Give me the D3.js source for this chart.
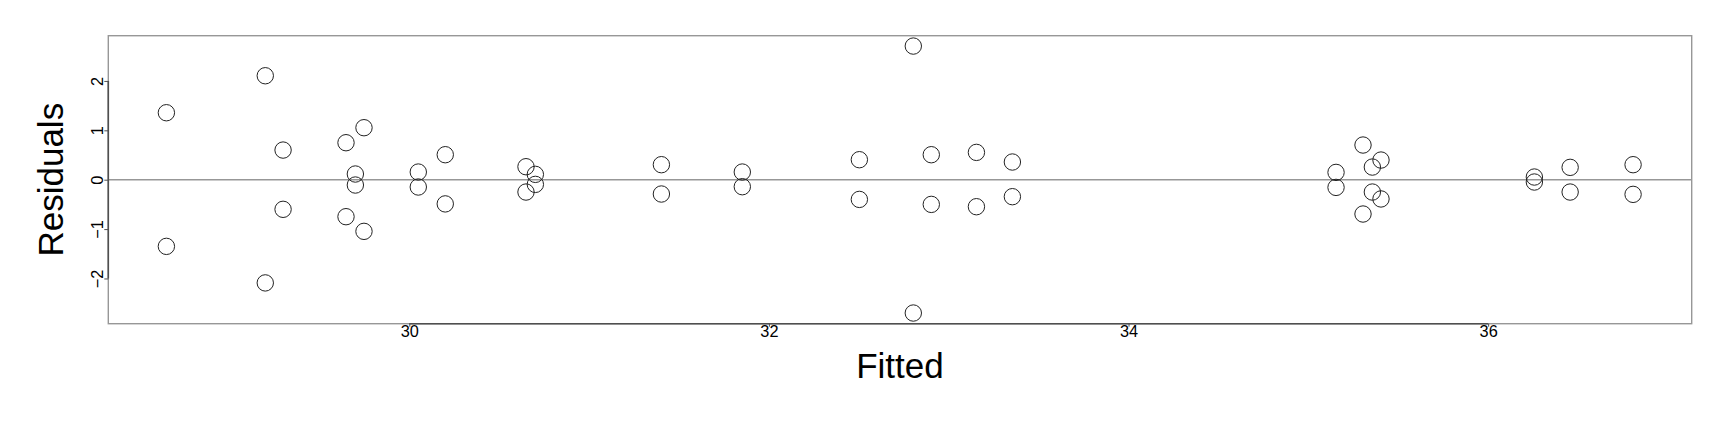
<!DOCTYPE html>
<html>
<head>
<meta charset="utf-8">
<script src="https://cdn.jsdelivr.net/npm/d3@7"></script>
<style>
  html, body { margin: 0; padding: 0; background: #fff; }
  svg { display: block; font-family: "Liberation Sans", Arial, Helvetica, sans-serif; }
</style>
</head>
<body>
<svg id="chart" width="1728" height="432"></svg>
<script>
// Data (Fitted vs Residuals)
const fitted = [
  28.649, 28.649, 29.199, 29.199, 29.298, 29.298, 29.648, 29.648,
  29.748, 29.748, 29.700, 29.700, 30.050, 30.050, 30.200, 30.200,
  30.649, 30.649, 30.701, 30.701, 31.402, 31.402, 31.852, 31.852,
  32.503, 32.503, 32.803, 32.803, 32.903, 32.903, 33.154, 33.154,
  33.354, 33.354, 35.154, 35.154, 35.304, 35.304, 35.356, 35.356,
  35.404, 35.404, 36.257, 36.257, 36.456, 36.456, 36.806, 36.806
];
const residuals = [
  1.356, -1.350, 2.105, -2.090, 0.600, -0.600, 0.749, -0.749,
  1.053, -1.046, 0.115, -0.108, 0.155, -0.148, 0.506, -0.490,
  0.263, -0.250, 0.108, -0.095, 0.304, -0.290, 0.155, -0.142,
  0.405, -0.399, 2.706, -2.700, 0.506, -0.500, 0.553, -0.547,
  0.358, -0.344, 0.148, -0.156, 0.702, -0.695, 0.256, -0.250,
  0.398, -0.390, 0.054, -0.047, 0.250, -0.250, 0.304, -0.297
];
const xTicks = [30, 32, 34, 36];
const yTicks = [-2, -1, 0, 1, 2];
const xLabel = "Fitted";
const yLabel = "Residuals";

const W = 1728, H = 432;
const margin = { left: 108.3, right: 36.3, top: 35.7, bottom: 108.3 };
const svg = d3.select("#chart");

const x = d3.scaleLinear().domain([28.326, 37.132]).range([margin.left, W - margin.right]);
const y = d3.scaleLinear().domain([-2.916, 2.916]).range([H - margin.bottom, margin.top]);

const boxColor = "#979797";
const axisColor = "#4f4f4f";

// zero reference line
svg.append("line")
  .attr("x1", x.range()[0]).attr("x2", x.range()[1])
  .attr("y1", y(0)).attr("y2", y(0))
  .attr("stroke", boxColor).attr("stroke-width", 1.4);

// plot box
svg.append("rect")
  .attr("x", x.range()[0]).attr("y", y.range()[1])
  .attr("width", x.range()[1] - x.range()[0])
  .attr("height", y.range()[0] - y.range()[1])
  .attr("fill", "none").attr("stroke", boxColor).attr("stroke-width", 1.4);

// bottom axis
const gx = svg.append("g")
  .attr("transform", `translate(0,${y.range()[0]})`)
  .call(d3.axisBottom(x).tickValues(xTicks).tickFormat(d3.format("d")).tickSize(3).tickPadding(-1));
gx.select(".domain").remove();
gx.selectAll(".tick line").attr("stroke", axisColor).attr("stroke-width", 1);
gx.selectAll(".tick text").attr("font-size", 16.3).attr("fill", "#000")
  .attr("font-family", "Liberation Sans, Arial, sans-serif");
gx.append("line")
  .attr("x1", x(xTicks[0])).attr("x2", x(xTicks[xTicks.length - 1]))
  .attr("y1", 0).attr("y2", 0)
  .attr("stroke", axisColor).attr("stroke-width", 1.6);

// left axis
const gy = svg.append("g")
  .attr("transform", `translate(${x.range()[0]},0)`)
  .call(d3.axisLeft(y).tickValues(yTicks).tickFormat(d3.format("d")).tickSize(4));
gy.select(".domain").remove();
gy.selectAll(".tick line").attr("stroke", axisColor).attr("stroke-width", 1);
gy.selectAll(".tick text")
  .attr("font-size", 16.3).attr("fill", "#000")
  .attr("font-family", "Liberation Sans, Arial, sans-serif")
  .attr("x", null).attr("dy", null)
  .attr("text-anchor", "middle")
  .attr("transform", "translate(-5,0) rotate(-90)");
gy.append("line")
  .attr("x1", 0).attr("x2", 0)
  .attr("y1", y(yTicks[0])).attr("y2", y(yTicks[yTicks.length - 1]))
  .attr("stroke", axisColor).attr("stroke-width", 1.6);

// points
const pts = fitted.map((f, i) => ({ f, r: residuals[i] }));
svg.append("g").selectAll("circle").data(pts).join("circle")
  .attr("cx", d => x(d.f)).attr("cy", d => y(d.r))
  .attr("r", 8.2)
  .attr("fill", "none").attr("stroke", "#222").attr("stroke-width", 1);

// axis titles
svg.append("text")
  .attr("x", (x.range()[0] + x.range()[1]) / 2).attr("y", 378)
  .attr("text-anchor", "middle").attr("font-size", 35).attr("fill", "#000")
  .text(xLabel);
svg.append("text")
  .attr("transform", `translate(63,${(y.range()[0] + y.range()[1]) / 2}) rotate(-90)`)
  .attr("text-anchor", "middle").attr("font-size", 35).attr("fill", "#000")
  .text(yLabel);
</script>
</body>
</html>
